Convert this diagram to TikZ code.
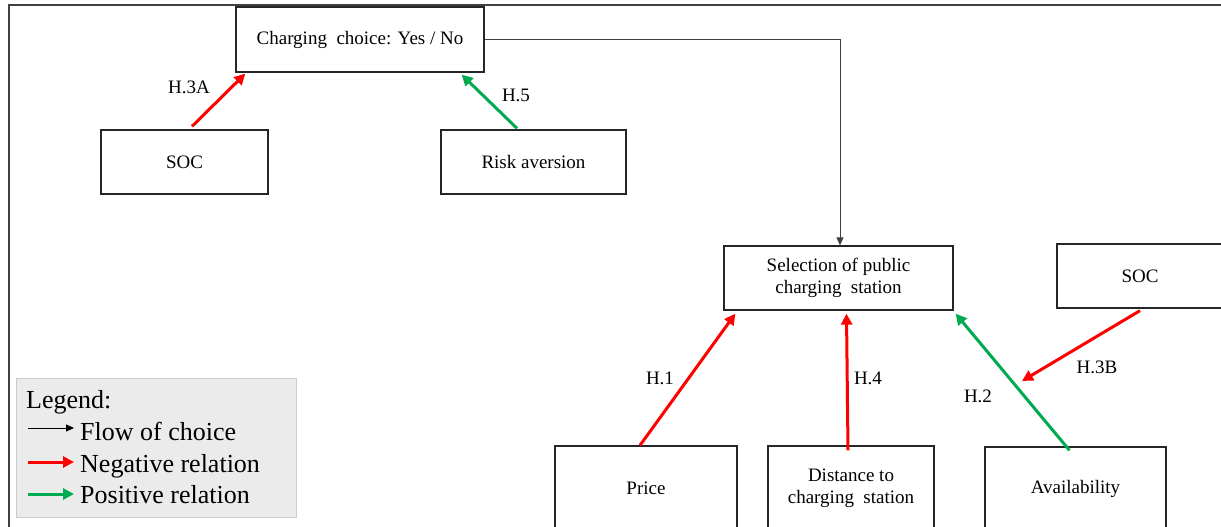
\documentclass[tikz,border=0pt]{standalone}
\usepackage{fontspec}
\setmainfont{Liberation Serif}
\usetikzlibrary{arrows.meta}
\definecolor{negred}{RGB}{255,0,0}
\definecolor{posgreen}{RGB}{0,170,80}
\definecolor{leggray}{RGB}{235,235,235}
\begin{document}
\begin{tikzpicture}[x=1pt,y=-1pt,
  box/.style={draw=black!85, line width=1.3pt, fill=white, inner sep=2pt, align=center, font=\fontsize{19}{22}\selectfont},
  lbl/.style={font=\fontsize{19}{22}\selectfont, inner sep=0pt},
  negrel/.style={draw=negred, line width=3pt, -{Triangle[length=11pt,width=11pt]}},
  posrel/.style={draw=posgreen, line width=3pt, -{Triangle[length=11pt,width=11pt]}},
  flowarr/.style={draw=black!75, line width=0.9pt, -{Triangle[length=8pt,width=7pt]}},
  legtxt/.style={font=\fontsize{26}{29}\selectfont, anchor=base west, inner sep=0pt}]
\clip (0,0) rectangle (1221,527);
\fill[white] (0,0) rectangle (1221,527);
% frame
\draw[line width=2.2pt, black!75] (9,540) -- (9,5) -- (1240,5);
% nodes
\node[box, minimum width=248pt, minimum height=65pt] (cc) at (360,39.5) {Charging\ \ choice: Yes / No};
\node[box, minimum width=167pt, minimum height=64pt] (soc1) at (184.5,162) {SOC};
\node[box, minimum width=185pt, minimum height=64pt] (risk) at (533.5,162) {Risk aversion};
\node[box, minimum width=229pt, minimum height=64pt] (sel) at (838.5,278) {Selection of public\\charging\ \ station};
\node[box, minimum width=166pt, minimum height=64pt] (soc2) at (1140,276) {SOC};
\node[box, minimum width=182pt, minimum height=84pt] (price) at (646,488) {Price};
\node[box, minimum width=166pt, minimum height=84pt] (dist) at (851,488) {Distance to\\charging\ \ station};
\node[box, minimum width=181pt, minimum height=84pt] (avail) at (1075.5,489) {Availability};
% flow
\draw[flowarr] (cc.east) -| ([xshift=1.5pt]sel.north);
% relations
\draw[negrel] ([xshift=7.5pt,yshift=3pt]soc1.north) -- ([xshift=10pt,yshift=-1pt]cc.south west);
\node[lbl] (h3a) at (189,87) {H.3A};
\draw[posrel] ([xshift=-16.5pt,yshift=1pt]risk.north) -- ([xshift=-23pt,yshift=-2pt]cc.south east);
\node[lbl] (h5) at (516,95) {H.5};
\draw[negrel] ([xshift=-6pt]price.north) -- ([xshift=12pt,yshift=-3pt]sel.south west);
\node[lbl] (h1) at (660,378) {H.1};
\draw[negrel] ([xshift=-3pt,yshift=-5pt]dist.north) -- ([xshift=8pt,yshift=-3pt]sel.south);
\node[lbl] (h4) at (868,378) {H.4};
\draw[posrel] ([xshift=-6pt,yshift=-4pt]avail.north) -- ([xshift=2pt,yshift=-3pt]sel.south east);
\node[lbl] (h2) at (978,396) {H.2};
\coordinate (h3bend) at (1022,381);
\draw[negrel] ([yshift=-2pt]soc2.south) -- (h3bend);
\node[lbl] (h3b) at (1097,367) {H.3B};
% legend
\node[draw=black!20, line width=1pt, fill=leggray, minimum width=280pt, minimum height=139pt, inner sep=0pt] (legend) at (156,447.5) {};
\node[legtxt] (lg0) at (26,408) {Legend:};
\node[legtxt] (lg1) at (80,440) {Flow of choice};
\node[legtxt] (lg2) at (80,472) {Negative relation};
\node[legtxt] (lg3) at (80,503) {Positive relation};
\coordinate (a1s) at (28,428); \coordinate (a1e) at (74,428);
\coordinate (a2s) at (28,462); \coordinate (a2e) at (74,462);
\coordinate (a3s) at (28,494); \coordinate (a3e) at (74,494);
\draw[black, line width=1pt, -{Triangle[length=8pt,width=7pt]}] (a1s) -- (a1e);
\draw[negrel] (a2s) -- (a2e);
\draw[posrel] (a3s) -- (a3e);
\end{tikzpicture}
\end{document}
